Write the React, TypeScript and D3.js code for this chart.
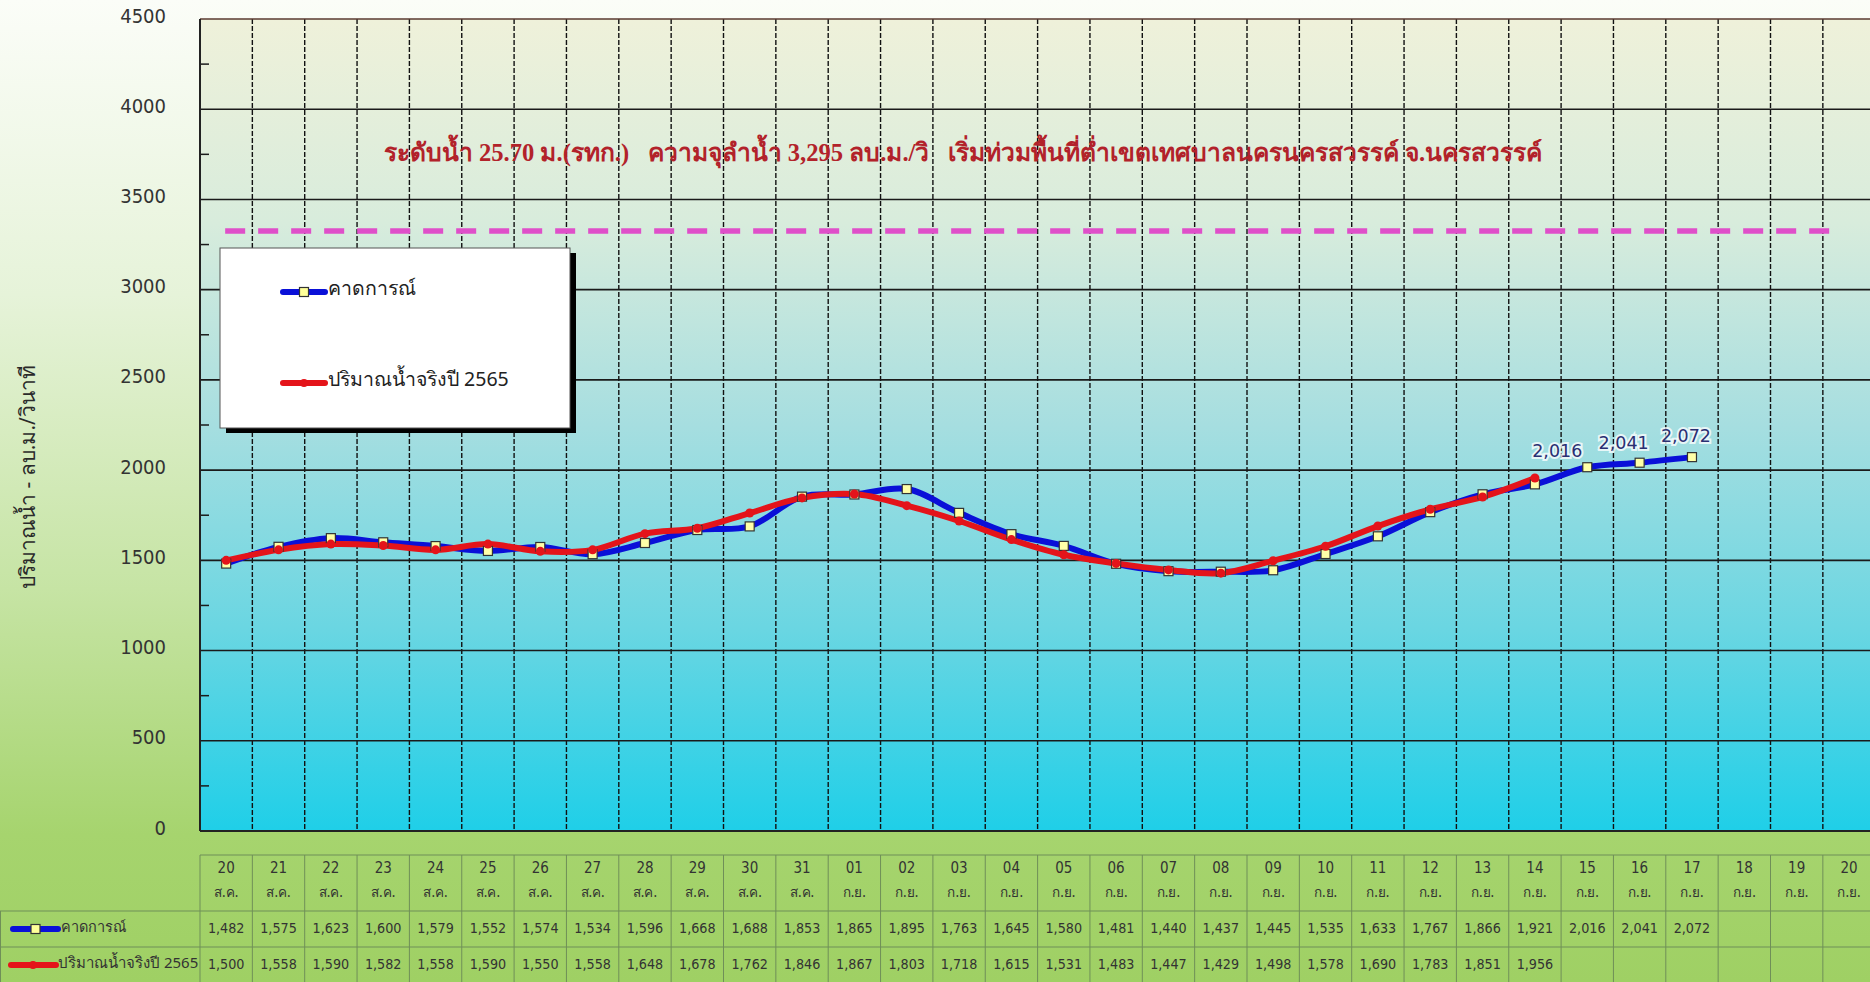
import React from 'react';
import * as d3 from 'd3';

const days = ['20','21','22','23','24','25','26','27','28','29','30','31','01','02','03','04','05','06','07','08','09','10','11','12','13','14','15','16','17','18','19','20'];
const months = ['ส.ค.','ส.ค.','ส.ค.','ส.ค.','ส.ค.','ส.ค.','ส.ค.','ส.ค.','ส.ค.','ส.ค.','ส.ค.','ส.ค.','ก.ย.','ก.ย.','ก.ย.','ก.ย.','ก.ย.','ก.ย.','ก.ย.','ก.ย.','ก.ย.','ก.ย.','ก.ย.','ก.ย.','ก.ย.','ก.ย.','ก.ย.','ก.ย.','ก.ย.','ก.ย.','ก.ย.','ก.ย.'];
const forecast = [1482,1575,1623,1600,1579,1552,1574,1534,1596,1668,1688,1853,1865,1895,1763,1645,1580,1481,1440,1437,1445,1535,1633,1767,1866,1921,2016,2041,2072];
const actual2565 = [1500,1558,1590,1582,1558,1590,1550,1558,1648,1678,1762,1846,1867,1803,1718,1615,1531,1483,1447,1429,1498,1578,1690,1783,1851,1956];
const yTicks = [0,500,1000,1500,2000,2500,3000,3500,4000,4500];
const yMinorTicks = [250,750,1250,1750,2250,2750,3250,3750,4250];
const thresholdLevel = 3325;
const labeledForecast = [26,27,28];
const seriesNames = ['คาดการณ์','ปริมาณน้ำจริงปี 2565'];
const titleText = 'ระดับน้ำ 25.70 ม.(รทก.)   ความจุลำน้ำ 3,295 ลบ.ม./วิ   เริ่มท่วมพื้นที่ต่ำเขตเทศบาลนครนครสวรรค์ จ.นครสวรรค์';
const yTitle = 'ปริมาณน้ำ - ลบ.ม./วินาที';

const W = 1870, H = 982;
const PL = 200, PT = 19, PB = 831;
const COLW = 52.35;
const labelOffsets = [[-30, -15], [-16, -19], [-6, -20]];

const fmt = d3.format(',');
const BLUE = '#0a10d8';
const RED = '#e4141a';
const NUMFONT = "'DejaVu Sans Condensed','DejaVu Sans',sans-serif";
const THFONT = "'Noto Sans','DejaVu Sans',sans-serif";

export default function App() {
  const idx = days.map((_, i) => String(i));
  const x = d3.scaleBand<string>().domain(idx).range([PL, PL + COLW * days.length]).padding(0);
  const y = d3.scaleLinear().domain([0, 4500]).range([PB, PT]);
  const cx = (i: number) => (x(String(i)) as number) + x.bandwidth() / 2;

  const blueLine = d3.line<number>().x((_, i) => cx(i)).y(d => y(d)).curve(d3.curveCatmullRom.alpha(0.5));
  const redLine = d3.line<number>().x((_, i) => cx(i)).y(d => y(d)).curve(d3.curveCatmullRom.alpha(0.5));

  const plotRight = PL + COLW * days.length;
  const tTop = 855, tHead = 911, tRow1 = 947, tRow2 = 983;

  return (
    <div style={{ position: 'absolute', left: 0, top: 0, width: W, height: H, overflow: 'hidden' }}>
      <svg width={W} height={H} style={{ display: 'block' }}>
        <defs>
          <linearGradient id="pageBg" x1="0" y1="0" x2="0" y2="1">
            <stop offset="0" stopColor="#fbfdf8" />
            <stop offset="0.3" stopColor="#e6f3d9" />
            <stop offset="0.6" stopColor="#c6e4a4" />
            <stop offset="0.85" stopColor="#a6d46e" />
            <stop offset="1" stopColor="#9fd064" />
          </linearGradient>
          <linearGradient id="plotBg" x1="0" y1="0" x2="0" y2="1">
            <stop offset="0" stopColor="#eff1da" />
            <stop offset="0.25" stopColor="#d8ecdc" />
            <stop offset="0.5" stopColor="#a6dee0" />
            <stop offset="0.75" stopColor="#6ad6e2" />
            <stop offset="1" stopColor="#1fcfe8" />
          </linearGradient>
        </defs>
        <rect x={0} y={0} width={W} height={H} fill="url(#pageBg)" />
        {/* plot area */}
        <rect x={PL} y={PT} width={plotRight - PL} height={PB - PT} fill="url(#plotBg)" />
        {/* vertical dashed gridlines */}
        {idx.slice(1).map(k => (
          <line key={'v' + k} x1={x(k)} x2={x(k)} y1={PT} y2={PB} stroke="#111" strokeWidth={1.4} strokeDasharray="5,2" />
        ))}
        {/* horizontal gridlines */}
        {yTicks.map(t => (
          <line key={'h' + t} x1={PL} x2={plotRight} y1={y(t)} y2={y(t)} stroke={t === 4500 ? '#5a3a30' : '#1a1a1a'} strokeWidth={1.6} />
        ))}
        {yMinorTicks.map(t => (
          <line key={'m' + t} x1={PL} x2={PL + 9} y1={y(t)} y2={y(t)} stroke="#1a1a1a" strokeWidth={1.5} />
        ))}
        <line x1={PL} x2={PL} y1={PT} y2={PB} stroke="#222" strokeWidth={2} />
        <line x1={PL} x2={plotRight} y1={PB} y2={PB} stroke="#222" strokeWidth={2} />
        {/* y tick labels */}
        {yTicks.map(t => (
          <text key={'yl' + t} x={166} y={y(t) - 2} textAnchor="end" dominantBaseline="middle" fontFamily={NUMFONT} fontSize={20} fill="#333">{t}</text>
        ))}
        {/* y title */}
        <text transform={`translate(29,477) rotate(-90)`} textAnchor="middle" dominantBaseline="middle" fontFamily={THFONT} fontSize={21} fill="#2a2a2a">{yTitle}</text>
        {/* title */}
        <text x={963} y={155} textAnchor="middle" dominantBaseline="middle" style={{ whiteSpace: 'pre' }} fontFamily="'Liberation Serif','DejaVu Serif',serif" fontWeight="bold" fontSize={24.6} fill="#b2222a">{titleText}</text>
        {/* threshold */}
        <line x1={cx(0) - 1} x2={1836} y1={y(thresholdLevel)} y2={y(thresholdLevel)} stroke="#df4fc9" strokeWidth={5.5} strokeDasharray="20,13" />
        {/* legend */}
        <rect x={226} y={253} width={350} height={180} fill="#000" />
        <rect x={220} y={248} width={350} height={180} fill="#fff" stroke="#555" strokeWidth={1} />
        <line x1={283} x2={325} y1={292} y2={292} stroke={BLUE} strokeWidth={6} strokeLinecap="round" />
        <rect x={299.5} y={287.5} width={9} height={9} fill="#ffff99" stroke="#333" strokeWidth={1.2} />
        <text x={328} y={290} dominantBaseline="middle" fontFamily={THFONT} fontSize={19.5} fill="#222">{seriesNames[0]}</text>
        <line x1={283} x2={325} y1={383} y2={383} stroke={RED} strokeWidth={6} strokeLinecap="round" />
        <circle cx={304} cy={383} r={4} fill={RED} />
        <text x={328} y={381} dominantBaseline="middle" fontFamily={THFONT} fontSize={19.5} fill="#222">{seriesNames[1]}</text>
        {/* series */}
        <path d={blueLine(forecast) || ''} fill="none" stroke={BLUE} strokeWidth={6} strokeLinejoin="round" />
        <path d={redLine(actual2565) || ''} fill="none" stroke={RED} strokeWidth={6} strokeLinejoin="round" />
        {forecast.map((v, i) => (
          <rect key={'bm' + i} x={cx(i) - 4.5} y={y(v) - 4.5} width={9} height={9} fill="#ffffa8" stroke="#333" strokeWidth={1.2} />
        ))}
        {actual2565.map((v, i) => (
          <circle key={'rm' + i} cx={cx(i)} cy={y(v)} r={4.5} fill={RED} />
        ))}
        {labeledForecast.map((i, k) => (
          <text key={'dl' + i} x={cx(i) + labelOffsets[k][0]} y={y(forecast[i]) + labelOffsets[k][1]} textAnchor="middle" dominantBaseline="middle"
            fontFamily="'DejaVu Sans',sans-serif" fontSize={17.5} fill="#2a2f72" stroke="#ffffff" strokeOpacity={0.75} strokeWidth={4} paintOrder="stroke">{fmt(forecast[i])}</text>
        ))}
        {/* table */}
        <g>
          <line x1={PL} x2={W} y1={tTop} y2={tTop} stroke="#6f8f58" strokeWidth={1} />
          <line x1={0} x2={W} y1={tHead} y2={tHead} stroke="#6f8f58" strokeWidth={1} />
          <line x1={0} x2={W} y1={tRow1} y2={tRow1} stroke="#6f8f58" strokeWidth={1} />
          <line x1={PL} x2={PL} y1={tTop} y2={tRow2} stroke="#6f8f58" strokeWidth={1} />
          <line x1={0.5} x2={0.5} y1={tHead} y2={tRow2} stroke="#6f8f58" strokeWidth={1} />
          {idx.slice(1).map(k => (
            <line key={'tv' + k} x1={x(k)} x2={x(k)} y1={tTop} y2={tRow2} stroke="#6f8f58" strokeWidth={1} />
          ))}
          {days.map((d, i) => (
            <g key={'th' + i}>
              <text x={cx(i)} y={868} textAnchor="middle" dominantBaseline="middle" fontFamily={NUMFONT} fontSize={15} fill="#333">{d}</text>
              <text x={cx(i)} y={893} textAnchor="middle" dominantBaseline="middle" fontFamily={THFONT} fontSize={13.5} fill="#333">{months[i]}</text>
            </g>
          ))}
          {forecast.map((v, i) => (
            <text key={'tf' + i} x={cx(i)} y={929} textAnchor="middle" dominantBaseline="middle" fontFamily={NUMFONT} fontSize={14.2} fill="#333">{fmt(v)}</text>
          ))}
          {actual2565.map((v, i) => (
            <text key={'ta' + i} x={cx(i)} y={965} textAnchor="middle" dominantBaseline="middle" fontFamily={NUMFONT} fontSize={14.2} fill="#333">{fmt(v)}</text>
          ))}
          <line x1={13} x2={58} y1={929} y2={929} stroke={BLUE} strokeWidth={6} strokeLinecap="round" />
          <rect x={31} y={924.5} width={9} height={9} fill="#ffff99" stroke="#333" strokeWidth={1.2} />
          <text x={61} y={928} dominantBaseline="middle" fontFamily={THFONT} fontSize={14.5} fill="#333">{seriesNames[0]}</text>
          <line x1={11} x2={56} y1={965} y2={965} stroke={RED} strokeWidth={6} strokeLinecap="round" />
          <circle cx={33} cy={965} r={4} fill={RED} />
          <text x={58} y={964} dominantBaseline="middle" fontFamily={THFONT} fontSize={15} fill="#333">{seriesNames[1]}</text>
        </g>
      </svg>
    </div>
  );
}
